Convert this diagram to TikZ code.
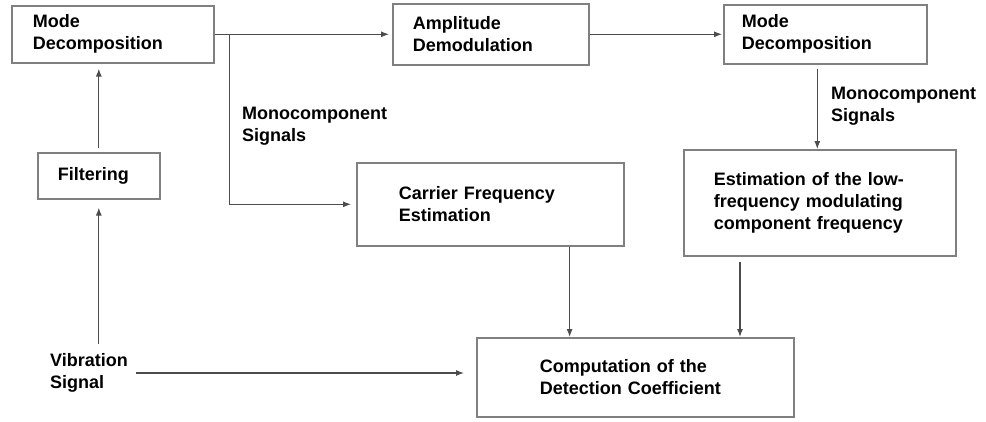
\documentclass[tikz,border=0pt]{standalone}
\usepackage{fontspec}
\setmainfont{Liberation Sans}
\usetikzlibrary{arrows.meta}

\begin{document}
\begin{tikzpicture}[x=1pt,y=-1pt,
                    font=\fontsize{18}{22}\selectfont\bfseries,
                    box/.style={draw=black!50,line width=1.6pt,rectangle,anchor=north west,align=left,inner ysep=0pt},
                    arr/.style={draw=black!70,line width=1.1pt,-{Latex[length=8pt,width=6pt]}},
                    lbl/.style={anchor=west,align=left,inner sep=0pt}]
                    \useasboundingbox (0,0) rectangle (986,421);
                    \node [box,minimum height=57,text width=160,inner xsep=21] (md1) at (11,5) {Mode\\Decomposition};
                    \node [box,minimum height=46,text width=82,inner xsep=20] (filt) at (37,152) {Filtering};
                    \node [box,minimum height=61,text width=156,inner xsep=20] (amp) at (392,3) {Amplitude\\Demodulation};
                    \node [box,minimum height=59,text width=167,inner xsep=18] (md2) at (723,4) {Mode\\Decomposition};
                    \node [box,minimum height=83,text width=183,inner xsep=42] (car) at (356,162) {Carrier Frequency\\Estimation};
                    \node [box,minimum height=106,text width=212,inner xsep=30] (est) at (683,149) {Estimation of the low-\\frequency modulating\\component frequency};
                    \node [box,minimum height=79,text width=191,inner xsep=63] (comp) at (476,337) {Computation of the\\Detection Coefficient};
                    \node [lbl] (vib) at (50,373) {Vibration\\Signal};
                    \node [lbl] (mono1) at (242,126) {Monocomponent\\Signals};
                    \node [lbl] (mono2) at (831,106) {Monocomponent\\Signals};
                    \coordinate (br) at ([xshift=15pt]md1.east);
                    % connectors
                    \draw [arr,shorten >=3pt] (md1.east) -- (amp.west);
                    \draw [arr,shorten >=5pt] (br) |- (car.west);
                    \draw [arr,shorten >=1pt] (amp.east) -- (md2.west);
                    \draw [arr,shorten <=4pt] ([xshift=-8pt]md2.south) -- ([xshift=-8pt]md2.south |- est.north);
                    \draw [arr,shorten <=4pt,shorten >=5pt] (filt.north) -- (filt.north |- md1.south);
                    \draw [arr,shorten <=9pt,shorten >=8pt] (filt.south |- vib.north) -- (filt.south);
                    \draw [arr,shorten <=8pt,shorten >=12pt] (vib.east) -- (vib.east -| comp.west);
                    \draw [arr] ([xshift=-55pt]car.south east) -- ([xshift=-55pt]car.south east |- comp.north);
                    \draw [arr,shorten <=5pt] ([xshift=57pt]est.south west) -- ([xshift=57pt]est.south west |- comp.north);
                \end{tikzpicture}
\end{document}
